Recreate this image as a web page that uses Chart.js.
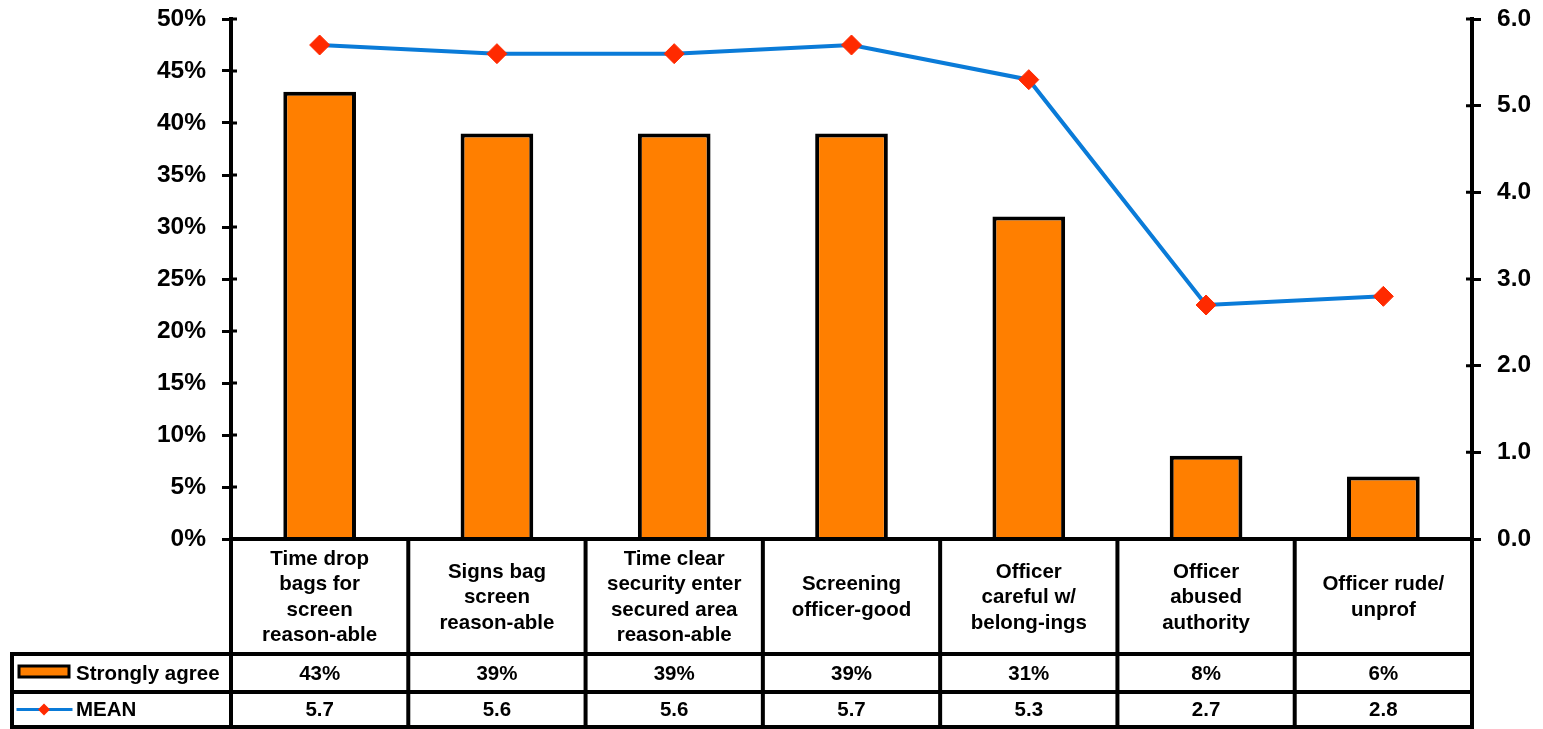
<!DOCTYPE html>
<html>
<head>
<meta charset="utf-8">
<script src="https://cdn.jsdelivr.net/npm/chart.js@4"></script>
<style>
  html, body { margin: 0; padding: 0; background: #fff; }
  #wrap { width: 1543px; height: 729px; }
</style>
</head>
<body>
<div id="wrap"><canvas id="chart" width="1543" height="729"></canvas></div>
<script>
// Data
const categories = [
    ['Time drop', 'bags for', 'screen', 'reason-able'],
    ['Signs bag', 'screen', 'reason-able'],
    ['Time clear', 'security enter', 'secured area', 'reason-able'],
    ['Screening', 'officer-good'],
    ['Officer', 'careful w/', 'belong-ings'],
    ['Officer', 'abused', 'authority'],
    ['Officer rude/', 'unprof']
];
const stronglyAgree = [43, 39, 39, 39, 31, 8, 6];
const meanScores = [5.7, 5.6, 5.6, 5.7, 5.3, 2.7, 2.8];
const seriesNames = ['Strongly agree', 'MEAN'];
const pctTicks = [0, 5, 10, 15, 20, 25, 30, 35, 40, 45, 50];
const meanTicks = [0, 1, 2, 3, 4, 5, 6];

const ORANGE = '#FF7F00';
const BLUE = '#0A7BD8';
const RED = '#FF2A00';
const FONT = '"Liberation Sans", Arial, sans-serif';

// Draws the Excel-style data table under the plot, plus the inner half of the cross ticks
const dataTablePlugin = {
    id: 'dataTable',
    afterDraw(chart) {
        const ctx = chart.ctx;
        const x = chart.scales.x;
        const area = chart.chartArea;
        const half = (x.getPixelForValue(1) - x.getPixelForValue(0)) / 2;
        const top = area.bottom;
        const row1 = 654, row2 = 692, bottom = 727, tableLeft = 12;

        ctx.save();
        ctx.strokeStyle = '#000';
        ctx.lineWidth = 3;
        ctx.beginPath();
        pctTicks.forEach(v => {
            const py = chart.scales.y.getPixelForValue(v);
            ctx.moveTo(area.left, py); ctx.lineTo(area.left + 6, py);
        });
        meanTicks.forEach(v => {
            const py = chart.scales.y2.getPixelForValue(v);
            ctx.moveTo(area.right - 6, py); ctx.lineTo(area.right, py);
        });
        ctx.stroke();

        ctx.lineWidth = 4;
        ctx.lineCap = 'square';
        ctx.beginPath();
        // horizontals
        ctx.moveTo(area.left, top); ctx.lineTo(area.right, top);
        ctx.moveTo(tableLeft, row1); ctx.lineTo(area.right, row1);
        ctx.moveTo(tableLeft, row2); ctx.lineTo(area.right, row2);
        ctx.moveTo(tableLeft, bottom); ctx.lineTo(area.right, bottom);
        // verticals
        ctx.moveTo(tableLeft, row1); ctx.lineTo(tableLeft, bottom);
        for (let i = 0; i <= categories.length; i++) {
            const bx = i === 0 ? area.left : (i === categories.length ? area.right : x.getPixelForValue(i) - half);
            ctx.moveTo(bx, top); ctx.lineTo(bx, bottom);
        }
        ctx.stroke();

        ctx.fillStyle = '#000';
        ctx.textAlign = 'center';
        ctx.textBaseline = 'middle';
        ctx.font = 'bold 20.5px ' + FONT;
        const lineH = 25.5;
        const midCat = (top + row1) / 2 + 1;
        categories.forEach((lines, i) => {
            const cx = x.getPixelForValue(i);
            const startY = midCat - (lines.length - 1) * lineH / 2;
            lines.forEach((t, j) => ctx.fillText(t, cx, startY + j * lineH));
            ctx.fillText(stronglyAgree[i] + '%', cx, (row1 + row2) / 2 + 1);
            ctx.fillText(meanScores[i].toFixed(1), cx, (row2 + bottom) / 2 + 1);
        });

        // legend keys
        ctx.textAlign = 'left';
        ctx.fillText(seriesNames[0], 76, (row1 + row2) / 2 + 1);
        ctx.fillText(seriesNames[1], 76, (row2 + bottom) / 2 + 1);

        ctx.fillStyle = ORANGE;
        ctx.lineWidth = 3;
        ctx.beginPath();
        ctx.rect(19, 666, 50, 11);
        ctx.fill();
        ctx.stroke();

        const my = (row2 + bottom) / 2;
        ctx.strokeStyle = BLUE;
        ctx.lineWidth = 3;
        ctx.beginPath();
        ctx.moveTo(18, my); ctx.lineTo(71, my);
        ctx.stroke();
        ctx.fillStyle = RED;
        ctx.beginPath();
        ctx.moveTo(44, my - 6); ctx.lineTo(50, my); ctx.lineTo(44, my + 6); ctx.lineTo(38, my);
        ctx.closePath();
        ctx.fill();
        ctx.restore();
    }
};

function fixWidth(w) {
    return s => {
        s.width = w;
        s.paddingTop = 0;
        s.paddingBottom = 0;
    };
}

new Chart(document.getElementById('chart'), {
    type: 'bar',
    data: {
        labels: categories,
        datasets: [
            {
                type: 'line',
                label: seriesNames[1],
                data: meanScores,
                yAxisID: 'y2',
                borderColor: BLUE,
                borderWidth: 4,
                pointStyle: 'rectRot',
                pointRadius: 10,
                pointBackgroundColor: RED,
                pointBorderColor: RED,
                pointBorderWidth: 1,
                tension: 0,
                order: 0
            },
            {
                type: 'bar',
                label: seriesNames[0],
                data: stronglyAgree,
                yAxisID: 'y',
                backgroundColor: ORANGE,
                borderColor: '#000',
                borderWidth: 4,
                barPercentage: 0.41,
                categoryPercentage: 1,
                order: 1
            }
        ]
    },
    options: {
        responsive: false,
        animation: false,
        layout: { padding: { top: 19, bottom: 190, left: 0, right: 0 } },
        plugins: {
            legend: { display: false },
            tooltip: { enabled: false }
        },
        scales: {
            x: { display: false },
            y: {
                position: 'left',
                min: 0,
                max: 50,
                afterFit: fixWidth(231),
                afterBuildTicks: s => { s.ticks = pctTicks.map(v => ({ value: v })); },
                ticks: {
                    color: '#000',
                    padding: 16,
                    font: { family: FONT, size: 24.5, weight: 'bold' },
                    callback: v => v + '%'
                },
                grid: { drawOnChartArea: false, color: '#000', lineWidth: 3, tickLength: 9 },
                border: { color: '#000', width: 4 }
            },
            y2: {
                position: 'right',
                min: 0,
                max: 6,
                afterFit: fixWidth(71),
                afterBuildTicks: s => { s.ticks = meanTicks.map(v => ({ value: v })); },
                ticks: {
                    color: '#000',
                    padding: 16,
                    font: { family: FONT, size: 24.5, weight: 'bold' },
                    callback: v => v.toFixed(1)
                },
                grid: { drawOnChartArea: false, color: '#000', lineWidth: 3, tickLength: 9 },
                border: { color: '#000', width: 4 }
            }
        }
    },
    plugins: [dataTablePlugin]
});
</script>
</body>
</html>
